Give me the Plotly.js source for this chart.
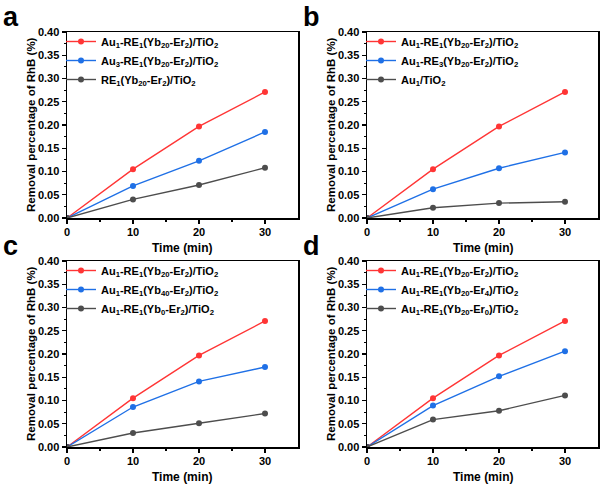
<!DOCTYPE html>
<html>
<head>
<meta charset="utf-8">
<script src="https://cdn.plot.ly/plotly-3.0.1.min.js"></script>
<style>html,body{margin:0;padding:0;background:#fff}#chart{width:600px;height:485px}</style>
</head>
<body>
<div id="chart"></div>
<script>
const time = [0, 10, 20, 30];

const redAll = [0, 0.105, 0.197, 0.271];

const aBlue = [0, 0.069, 0.123, 0.185];
const aGray = [0, 0.040, 0.071, 0.108];
const bBlue = [0, 0.062, 0.107, 0.141];
const bGray = [0, 0.022, 0.032, 0.035];
const cBlue = [0, 0.086, 0.141, 0.172];
const cGray = [0, 0.030, 0.051, 0.072];
const dBlue = [0, 0.089, 0.152, 0.206];
const dGray = [0, 0.059, 0.078, 0.111];

const redName = 'Au<sub>1</sub>-RE<sub>1</sub>(Yb<sub>20</sub>-Er<sub>2</sub>)/TiO<sub>2</sub>';
const aNames = [redName, 'Au<sub>3</sub>-RE<sub>1</sub>(Yb<sub>20</sub>-Er<sub>2</sub>)/TiO<sub>2</sub>', 'RE<sub>1</sub>(Yb<sub>20</sub>-Er<sub>2</sub>)/TiO<sub>2</sub>'];
const bNames = [redName, 'Au<sub>1</sub>-RE<sub>3</sub>(Yb<sub>20</sub>-Er<sub>2</sub>)/TiO<sub>2</sub>', 'Au<sub>1</sub>/TiO<sub>2</sub>'];
const cNames = [redName, 'Au<sub>1</sub>-RE<sub>1</sub>(Yb<sub>40</sub>-Er<sub>2</sub>)/TiO<sub>2</sub>', 'Au<sub>1</sub>-RE<sub>1</sub>(Yb<sub>0</sub>-Er<sub>2</sub>)/TiO<sub>2</sub>'];
const dNames = [redName, 'Au<sub>1</sub>-RE<sub>1</sub>(Yb<sub>20</sub>-Er<sub>4</sub>)/TiO<sub>2</sub>', 'Au<sub>1</sub>-RE<sub>1</sub>(Yb<sub>20</sub>-Er<sub>0</sub>)/TiO<sub>2</sub>'];

const panelLetters = ['a', 'b', 'c', 'd'];
const xTitle = 'Time (min)';
const yTitle = 'Removal percentage of RhB (%)';

const colors = ['#ff3535', '#1f70e6', '#4d4d4d'];
const FONT = 'Liberation Sans, Arial, sans-serif';

const panels = [
  {names: aNames, series: [redAll, aBlue, aGray]},
  {names: bNames, series: [redAll, bBlue, bGray]},
  {names: cNames, series: [redAll, cBlue, cGray]},
  {names: dNames, series: [redAll, dBlue, dGray]}
];

const W = 600, H = 485;
const xDom = [[67/W, 298/W], [367/W, 598/W]];
const yDom = [[1-218/H, 1-32/H], [1-447/H, 1-261/H]];

const traces = [];
const layout = {
  width: W, height: H,
  margin: {l: 0, r: 0, t: 0, b: 0},
  paper_bgcolor: '#fff', plot_bgcolor: '#fff',
  font: {family: FONT, color: '#000'},
  showlegend: true,
  annotations: []
};

panels.forEach((p, i) => {
  const col = i % 2, row = Math.floor(i / 2);
  const sfx = i === 0 ? '' : String(i + 1);
  const legKey = i === 0 ? 'legend' : 'legend' + (i + 1);
  p.series.forEach((s, k) => {
    traces.push({
      x: time, y: s, type: 'scatter', mode: 'lines+markers',
      name: p.names[k],
      xaxis: 'x' + sfx, yaxis: 'y' + sfx,
      legend: legKey,
      line: {color: colors[k], width: 1.4},
      marker: {color: colors[k], size: 6, symbol: 'circle'}
    });
  });
  const axCommon = {
    showline: true, mirror: true, linecolor: '#000', linewidth: 1.5,
    ticks: 'outside', ticklen: 4, tickwidth: 1.2, tickcolor: '#000',
    showgrid: false, zeroline: false,
    tickfont: {family: FONT, size: 11, color: '#000', weight: 'bold'}
  };
  layout['xaxis' + sfx] = Object.assign({}, axCommon, {
    domain: xDom[col], anchor: 'y' + sfx,
    range: [0, 35], tickvals: [0, 10, 20, 30], ticktext: ['0', '10', '20', '30'],
    ticklabelstandoff: -1,
    minor: {tickvals: [5, 15, 25], ticklen: 2, tickcolor: '#000', ticks: 'outside'}
  });
  layout['yaxis' + sfx] = Object.assign({}, axCommon, {
    domain: yDom[row], anchor: 'x' + sfx,
    range: [0, 0.4], tickvals: [0, 0.05, 0.1, 0.15, 0.2, 0.25, 0.3, 0.35, 0.4],
    ticktext: ['0.00', '0.05', '0.10', '0.15', '0.20', '0.25', '0.30', '0.35', '0.40'],
    minor: {tickvals: [0.025, 0.075, 0.125, 0.175, 0.225, 0.275, 0.325, 0.375], ticklen: 2, tickcolor: '#000', ticks: 'outside'}
  });
  layout[legKey] = {
    x: xDom[col][0] - 6/W, y: yDom[row][1] + 5/H, xanchor: 'left', yanchor: 'top',
    bgcolor: 'rgba(0,0,0,0)', borderwidth: 0,
    font: {family: FONT, size: 11, color: '#000', weight: 'bold'},
    tracegroupgap: 0, itemwidth: 30
  };
  // panel letter
  layout.annotations.push({
    text: '<b>' + panelLetters[i] + '</b>', xref: 'paper', yref: 'paper',
    x: (col === 0 ? 1 : 301) / W, y: 1 - (row === 0 ? 0 : 229) / H,
    xanchor: 'left', yanchor: 'top', showarrow: false,
    font: {family: FONT, size: 27, color: '#000'}
  });
  // x axis title
  layout.annotations.push({
    text: '<b>' + xTitle + '</b>', xref: 'paper', yref: 'paper',
    x: (xDom[col][0] + xDom[col][1]) / 2, y: 1 - (row === 0 ? 248 : 477) / H,
    xanchor: 'center', yanchor: 'middle', showarrow: false,
    font: {family: FONT, size: 12, color: '#000'}
  });
  // y axis title
  layout.annotations.push({
    text: '<b>' + yTitle + '</b>', xref: 'paper', yref: 'paper',
    x: (col === 0 ? 31 : 331) / W, y: (yDom[row][0] + yDom[row][1]) / 2,
    xanchor: 'center', yanchor: 'middle', textangle: -90, showarrow: false,
    font: {family: FONT, size: 11.5, color: '#000'}
  });
});

Plotly.newPlot('chart', traces, layout, {displayModeBar: false, staticPlot: true});
</script>
</body>
</html>
